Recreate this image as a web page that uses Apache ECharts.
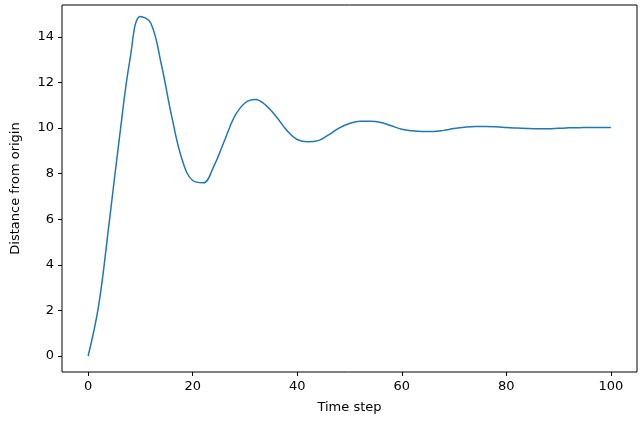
<!DOCTYPE html>
<html><head><meta charset="utf-8">
<script src="https://cdn.jsdelivr.net/npm/echarts@6/dist/echarts.min.js"></script>
<style>html,body{margin:0;padding:0;background:#fff}#c{width:640px;height:427px}</style>
</head><body><div id="c"></div>
<script>
const timeSteps = [0,2,4,6,8,10,12,14,16,18,20,22,24,26,28,30,32,34,36,38,40,42,44,46,48,50,52,54,56,58,60,62,64,66,68,70,72,74,76,78,80,82,84,86,88,90,92,94,96,98,100];
const distance = [0,2.2,5.8,9.6,13.0,14.9,14.6,12.8,10.5,8.6,7.7,7.6,8.3,9.4,10.5,11.1,11.25,11.0,10.5,9.9,9.5,9.4,9.45,9.7,10.0,10.2,10.3,10.3,10.25,10.1,9.95,9.88,9.85,9.85,9.9,9.98,10.04,10.07,10.07,10.06,10.03,10.0,9.98,9.97,9.97,9.99,10.01,10.02,10.03,10.03,10.03];
const xTicks = [0,20,40,60,80,100];
const yTicks = [0,2,4,6,8,10,12,14];
const chart = echarts.init(document.getElementById('c'));
const font = {fontFamily:'DejaVu Sans',fontSize:13,color:'#000'};
chart.setOption({
  animation:false,
  grid:{left:62,right:3,top:5,bottom:55,show:true,borderColor:'#000',borderWidth:1},
  xAxis:{type:'value',min:-5,max:105,axisLine:{show:false,onZero:false},
    axisTick:{show:true,lineStyle:{color:'#000'},length:4,customValues:xTicks},
    axisLabel:Object.assign({},font,{customValues:xTicks,margin:8}),splitLine:{show:false},
    name:'Time step',nameLocation:'middle',nameGap:29,nameTextStyle:font},
  yAxis:{type:'value',min:-0.7,max:15.4,axisLine:{show:false,onZero:false},
    axisTick:{show:true,lineStyle:{color:'#000'},length:4,customValues:yTicks},
    axisLabel:Object.assign({},font,{customValues:yTicks,margin:8}),splitLine:{show:false},
    name:'Distance from origin',nameLocation:'middle',nameGap:40,nameTextStyle:font},
  series:[{type:'line',data:timeSteps.map((t,i)=>[t,distance[i]]),smooth:0.4,showSymbol:false,
    lineStyle:{color:'#1f77b4',width:1.5}}]
});
</script></body></html>
